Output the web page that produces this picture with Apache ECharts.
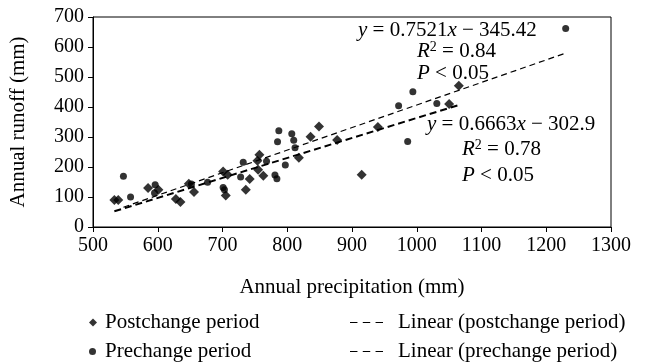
<!DOCTYPE html>
<html>
<head>
<meta charset="utf-8">
<script src="https://cdn.jsdelivr.net/npm/echarts@6/dist/echarts.min.js"></script>
<style>
  html, body { margin: 0; padding: 0; background: #fff; }
  #chart { width: 647px; height: 363px; }
</style>
</head>
<body>
<div id="chart"></div>
<script>
// Annual precipitation (mm) vs annual runoff (mm), two periods
const postX = [533, 539, 585, 601, 628, 635, 648, 656, 701, 708, 705, 736, 742, 754, 757, 755, 763, 818, 836, 849, 877, 915, 940, 1050, 1065];
const postY = [90, 90, 130, 124, 93, 83, 144, 117, 185, 174, 105, 124, 160, 221, 241, 191, 171, 231, 301, 335, 290, 174, 333, 410, 471];
const preX = [547, 558, 596, 595, 652, 677, 701, 703, 728, 732, 768, 781, 784, 785, 787, 797, 807, 810, 812, 972, 994, 986, 1031, 1230];
const preY = [169, 100, 141, 113, 143, 149, 132, 124, 167, 216, 219, 173, 161, 284, 321, 207, 311, 289, 264, 404, 451, 285, 412, 662];

// Linear fits (slope, intercept)
const postFit = [0.6663, -302.9];
const preFit = [0.7521, -345.42];

const xTicks = [500, 1300, 100];
const yTicks = [0, 700, 100];

const FONT = 'Liberation Serif';

function pairs(xs, ys) { return xs.map((x, i) => [x, ys[i]]); }
function fitLine(xs, fit) {
  const lo = Math.min(...xs), hi = Math.max(...xs);
  return [[lo, fit[0] * lo + fit[1]], [hi, fit[0] * hi + fit[1]]];
}

const chart = echarts.init(document.getElementById('chart'), null, { renderer: 'canvas' });

const EQ_SIZE = 21;
function eqText(x, y, s) {
  return {
    type: 'text', x: x, y: y, z: 10,
    style: {
      text: s, fontFamily: FONT, fontSize: EQ_SIZE, fill: '#000', lineHeight: 22,
      verticalAlign: 'middle', align: 'left',
      rich: {
        i: { fontStyle: 'italic', fontFamily: FONT, fontSize: EQ_SIZE, lineHeight: 22 },
        s: { fontFamily: FONT, fontSize: 14, lineHeight: 22, verticalAlign: 'top', padding: [0, 0, 0, 0] }
      }
    }
  };
}

// dashed-line legend glyph: three short bars
const DASH_ICON = 'path://M0,0h7v1h-7z M12,0h7v1h-7z M24,0h7v1h-7z';

// one legend block per entry, laid out in two columns
function legendItem(name, left, top, w, h, pad, icon) {
  return {
    left: left, top: top, itemWidth: w, itemHeight: h, padding: 0,
    textStyle: { fontFamily: FONT, fontSize: 21, color: '#000', padding: [0, 0, 0, pad] },
    data: [{ name: name, icon: icon, itemStyle: { color: '#000', borderWidth: 0 } }],
    selectedMode: false
  };
}

chart.setOption({
  animation: false,
  backgroundColor: '#fff',
  textStyle: { fontFamily: FONT, color: '#000' },
  grid: { left: 86, right: 36, top: 17, bottom: 136, show: true, borderColor: '#000', borderWidth: 1 },
  xAxis: {
    type: 'value', min: xTicks[0], max: xTicks[1], interval: xTicks[2],
    name: 'Annual precipitation (mm)', nameLocation: 'middle', nameGap: 50,
    nameTextStyle: { fontFamily: FONT, fontSize: 21, color: '#000' },
    axisLine: { onZero: false, lineStyle: { color: '#000', width: 1 } },
    axisTick: { inside: false, length: 5, lineStyle: { color: '#000' } },
    axisLabel: { fontFamily: FONT, fontSize: 20, color: '#000', margin: 9, formatter: v => String(v) },
    splitLine: { show: false }
  },
  yAxis: {
    type: 'value', min: yTicks[0], max: yTicks[1], interval: yTicks[2],
    name: 'Annual runoff (mm)', nameLocation: 'middle', nameGap: 64, nameRotate: 90,
    nameTextStyle: { fontFamily: FONT, fontSize: 21, color: '#000' },
    axisLine: { onZero: false, lineStyle: { color: '#000', width: 1 } },
    axisTick: { inside: false, length: 5, lineStyle: { color: '#000' } },
    axisLabel: { fontFamily: FONT, fontSize: 20, color: '#000', margin: 9, formatter: v => String(v) },
    splitLine: { show: false }
  },
  legend: [
    legendItem('Postchange period', 89, 312, 8, 8, 3, 'diamond'),
    legendItem('Prechange period', 89, 341, 7, 7, 4, 'circle'),
    legendItem('Linear (postchange period)', 350, 312, 33, 2, 10, DASH_ICON),
    legendItem('Linear (prechange period)', 350, 341, 33, 1.3, 10, DASH_ICON)
  ],
  series: [
    {
      name: 'Postchange period', type: 'scatter', symbol: 'diamond', symbolSize: 10,
      itemStyle: { color: '#000' }, data: pairs(postX, postY), z: 3
    },
    {
      name: 'Prechange period', type: 'scatter', symbol: 'circle', symbolSize: 7,
      itemStyle: { color: '#000' }, data: pairs(preX, preY), z: 3
    },
    {
      name: 'Linear (postchange period)', type: 'line', symbol: 'none', silent: true,
      lineStyle: { color: '#000', width: 2, type: [7, 4] }, itemStyle: { color: '#000' },
      data: fitLine(postX, postFit), z: 2
    },
    {
      name: 'Linear (prechange period)', type: 'line', symbol: 'none', silent: true,
      lineStyle: { color: '#000', width: 1.2, type: [6, 4] }, itemStyle: { color: '#000' },
      data: fitLine(preX, preFit), z: 2
    }
  ],
  graphic: [
    eqText(358, 30, '{i|y} = 0.7521{i|x} \u2212 345.42'),
    eqText(417, 51, '{i|R}{s|2} = 0.84'),
    eqText(417, 73, '{i|P} < 0.05'),
    eqText(427, 124, '{i|y} = 0.6663{i|x} \u2212 302.9'),
    eqText(462, 149, '{i|R}{s|2} = 0.78'),
    eqText(462, 175, '{i|P} < 0.05')
  ]
});
</script>
</body>
</html>
